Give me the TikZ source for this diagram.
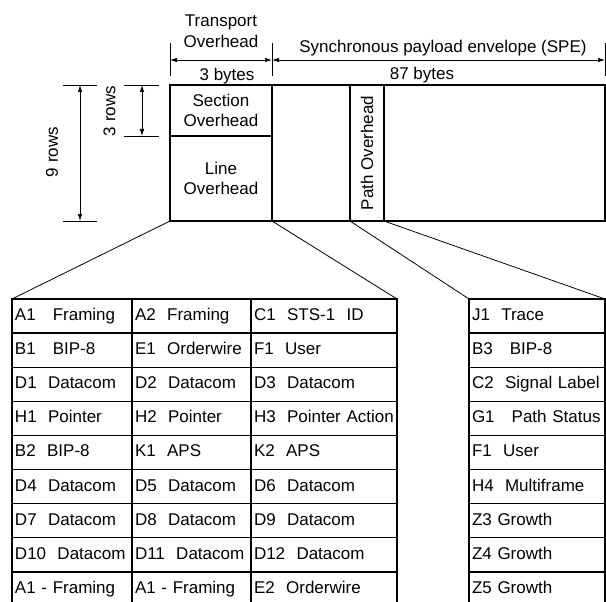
\documentclass[tikz,border=0pt]{standalone}
\usepackage{fontspec}
\setmainfont{Liberation Sans}
\usetikzlibrary{positioning, arrows.meta}

\begin{document}
\begin{tikzpicture}[x=1pt, y=-1pt, node distance=0pt,
  every node/.style={font=\fontsize{17}{20.5}\selectfont},
  frame/.style={draw, line width=1.6pt, anchor=north west, inner sep=0pt, outer sep=0pt, align=center},
  cell/.style={draw, line width=1.4pt, inner xsep=3pt, inner ysep=0pt, outer sep=0pt, text width=#1, text height=12.5pt, text depth=3.6pt, minimum height=34.1pt, align=left},
  dim/.style={{Latex[length=7pt,width=4.5pt]}-{Latex[length=7pt,width=4.5pt]}, line width=0.7pt},
  tick/.style={line width=0.7pt},
  fan/.style={line width=0.8pt}]
\useasboundingbox (0,0) rectangle (606,602);

% STS-1 frame: transport overhead and SPE
\node[frame, minimum width=102pt, minimum height=51pt] (soh) at (170,85) {Section\\Overhead};
\node[frame, minimum width=102pt, minimum height=85pt, below=of soh] (loh) {Line\\Overhead};
\node[frame, minimum width=78pt, minimum height=136pt] (spe) at (soh.north east) {};
\node[frame, minimum width=34pt, minimum height=136pt] (poh) at (spe.north east) {};
\node[frame, minimum width=221pt, minimum height=136pt] (pay) at (poh.north east) {};
\node[rotate=90] (pohtext) at (poh.center) {Path Overhead};

% Byte dimensions on top
\draw[tick] ([yshift=9pt]soh.north west) -- ([yshift=42pt]soh.north west);
\draw[tick] ([yshift=9pt]soh.north east) -- ([yshift=42pt]soh.north east);
\draw[tick] ([yshift=9pt]pay.north east) -- ([yshift=42pt]pay.north east);
\draw[dim] ([yshift=25pt]soh.north west) -- ([yshift=25pt]soh.north east);
\draw[dim] ([yshift=25pt]spe.north west) -- ([yshift=25pt]pay.north east);
\node[align=center] (tohlabel) at (221,31) {Transport\\Overhead};
\node[anchor=base] (tohbytes) at (227,80.5) {3 bytes};
\node[anchor=base] (spelabel) at (443,52.5) {Synchronous payload envelope (SPE)};
\node[anchor=base] (spebytes) at (422,79.5) {87 bytes};

% Row dimensions on the left
\draw[tick] ([xshift=-107pt]soh.north west) -- ([xshift=-73pt]soh.north west);
\draw[tick] ([xshift=-107pt]loh.south west) -- ([xshift=-73pt]loh.south west);
\draw[dim] ([xshift=-90pt]soh.north west) -- ([xshift=-90pt]loh.south west);
\node[rotate=90] (ninerows) at (52,152) {9 rows};
\draw[tick] ([xshift=-46pt]soh.north west) -- ([xshift=-11pt]soh.north west);
\draw[tick] ([xshift=-46pt]soh.south west) -- ([xshift=-11pt]soh.south west);
\draw[dim] ([xshift=-28pt]soh.north west) -- ([xshift=-28pt]soh.south west);
\node[rotate=90] (threerows) at (109.5,111) {3 rows};

% Transport overhead bytes
\node[cell=114pt, anchor=north west] (o11) at (12,299) {A1~~~Framing};
\node[cell=113pt, right=of o11] (o12) {A2~~Framing};
\node[cell=140pt, right=of o12] (o13) {C1~~STS-1~~ID};
\node[cell=114pt, below=of o11] (o21) {B1~~~BIP-8};
\node[cell=113pt, below=of o12] (o22) {E1~~Orderwire};
\node[cell=140pt, below=of o13] (o23) {F1~~User};
\node[cell=114pt, below=of o21] (o31) {D1~~Datacom};
\node[cell=113pt, below=of o22] (o32) {D2~~Datacom};
\node[cell=140pt, below=of o23] (o33) {D3~~Datacom};
\node[cell=114pt, below=of o31] (o41) {H1~~Pointer};
\node[cell=113pt, below=of o32] (o42) {H2~~Pointer};
\node[cell=140pt, below=of o33] (o43) {H3~~Pointer Action};
\node[cell=114pt, below=of o41] (o51) {B2~~BIP-8};
\node[cell=113pt, below=of o42] (o52) {K1~~APS};
\node[cell=140pt, below=of o43] (o53) {K2~~APS};
\node[cell=114pt, below=of o51] (o61) {D4~~Datacom};
\node[cell=113pt, below=of o52] (o62) {D5~~Datacom};
\node[cell=140pt, below=of o53] (o63) {D6~~Datacom};
\node[cell=114pt, below=of o61] (o71) {D7~~Datacom};
\node[cell=113pt, below=of o62] (o72) {D8~~Datacom};
\node[cell=140pt, below=of o63] (o73) {D9~~Datacom};
\node[cell=114pt, below=of o71] (o81) {D10~~Datacom};
\node[cell=113pt, below=of o72] (o82) {D11~~Datacom};
\node[cell=140pt, below=of o73] (o83) {D12~~Datacom};
\node[cell=114pt, below=of o81] (o91) {A1 - Framing};
\node[cell=113pt, below=of o82] (o92) {A1 - Framing};
\node[cell=140pt, below=of o83] (o93) {E2~~Orderwire};

% Path overhead bytes
\node[cell=130pt, anchor=north west] (p1) at (469,299) {J1~~Trace};
\node[cell=130pt, below=of p1] (p2) {B3~~~BIP-8};
\node[cell=130pt, below=of p2] (p3) {C2~~Signal Label};
\node[cell=130pt, below=of p3] (p4) {G1~~~Path Status};
\node[cell=130pt, below=of p4] (p5) {F1~~User};
\node[cell=130pt, below=of p5] (p6) {H4~~Multiframe};
\node[cell=130pt, below=of p6] (p7) {Z3 Growth};
\node[cell=130pt, below=of p7] (p8) {Z4 Growth};
\node[cell=130pt, below=of p8] (p9) {Z5 Growth};

% Fan-out lines
\draw[fan] (loh.south west) -- (o11.north west);
\draw[fan] (loh.south east) -- (o13.north east);
\draw[fan] (poh.south west) -- (p1.north west);
\draw[fan] (poh.south east) -- (p1.north east);
\end{tikzpicture}
\end{document}
